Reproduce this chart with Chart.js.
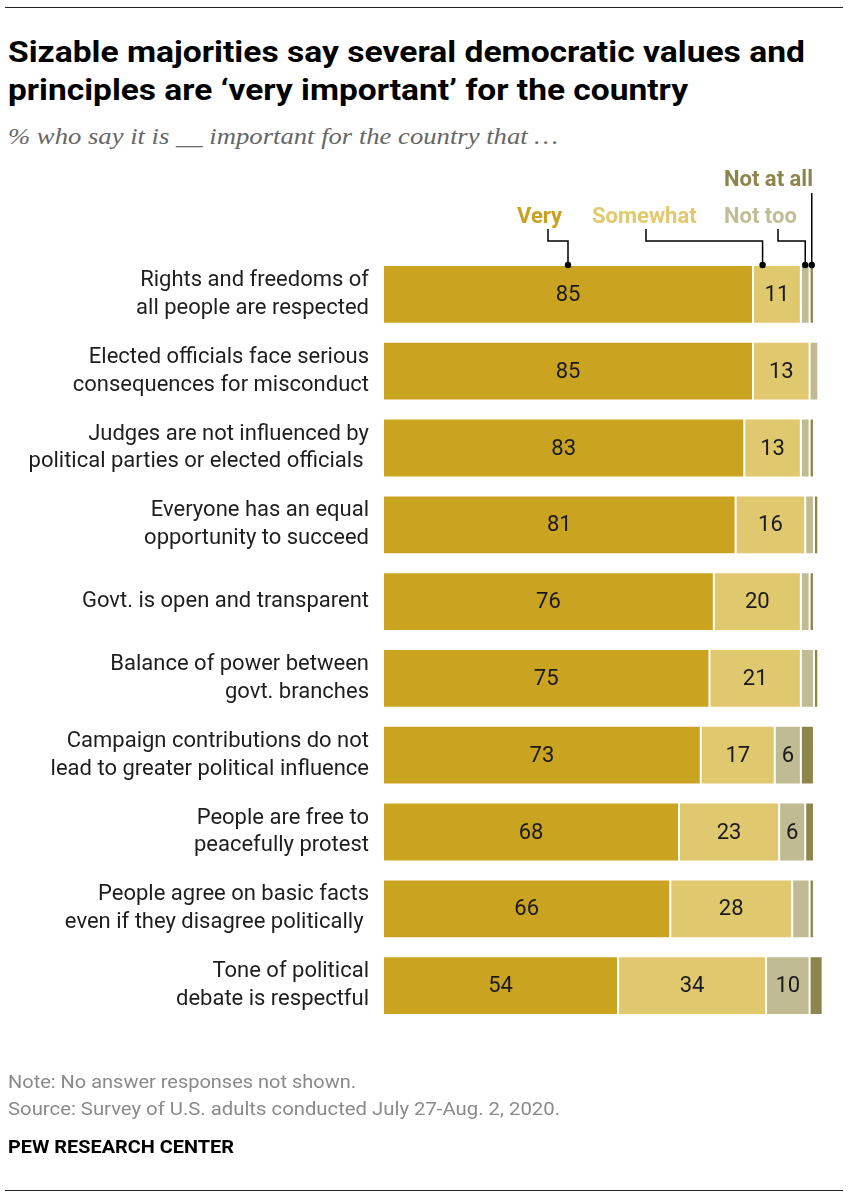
<!DOCTYPE html>
<html><head><meta charset="utf-8">
<script src="https://cdn.jsdelivr.net/npm/chart.js@4.4.1/dist/chart.umd.min.js"></script>
<style>
html,body{margin:0;padding:0;background:#fff;width:848px;height:1198px;overflow:hidden;}
#wrap{position:relative;width:848px;height:1198px;}
canvas{position:absolute;left:0;top:0;}
.t{position:absolute;left:8px;top:0;white-space:nowrap;transform-origin:0 0;}
.bl{display:inline-block;width:0;height:0;vertical-align:baseline;}
.title{font-family:Roboto,sans-serif;font-weight:700;font-size:30px;color:#000;}
.sub{font-family:"Liberation Serif",serif;font-style:italic;font-size:23px;color:#666;}
.note{font-family:Roboto,sans-serif;font-size:18px;color:#8a8a8a;}
.pew{font-family:Roboto,sans-serif;font-weight:700;font-size:18px;color:#000;}
.rule{position:absolute;left:5px;width:838px;height:1px;background:#222;}
</style></head>
<body><div id="wrap">
<div class="rule" style="top:7px"></div>
<div class="t title" data-w="797" data-b="62">Sizable majorities say several democratic values and<span class="bl"></span></div>
<div class="t title" data-w="680" data-b="100">principles are ‘very important’ for the country<span class="bl"></span></div>
<div class="t sub" data-w="550" data-b="144">% who say it is __ important for the country that …<span class="bl"></span></div>
<canvas id="c" width="848" height="1198"></canvas>
<div class="t note" data-w="348" data-b="1088">Note: No answer responses not shown.<span class="bl"></span></div>
<div class="t note" data-w="552" data-b="1115">Source: Survey of U.S. adults conducted July 27-Aug. 2, 2020.<span class="bl"></span></div>
<div class="t pew" data-w="226" data-b="1153">PEW RESEARCH CENTER<span class="bl"></span></div>
<div class="rule" style="top:1190px"></div>
</div>
<script>
const categories = [
  ["Rights and freedoms of", "all people are respected"],
  ["Elected officials face serious", "consequences for misconduct"],
  ["Judges are not influenced by", "political parties or elected officials "],
  ["Everyone has an equal", "opportunity to succeed"],
  ["Govt. is open and transparent"],
  ["Balance of power between", "govt. branches"],
  ["Campaign contributions do not", "lead to greater political influence"],
  ["People are free to", "peacefully protest"],
  ["People agree on basic facts", "even if they disagree politically "],
  ["Tone of political", "debate is respectful"]
];
const seriesNames = ["Very", "Somewhat", "Not too", "Not at all"];
const very     = [85, 85, 83, 81, 76, 75, 73, 68, 66, 54];
const somewhat = [11, 13, 13, 16, 20, 21, 17, 23, 28, 34];
const notToo   = [2, 2, 2, 2, 2, 3, 6, 6, 4, 10];
const notAtAll = [1, 0, 1, 1, 1, 1, 3, 2, 1, 3];

const colors = ["#CAA320", "#E0C86F", "#C0BB92", "#8D864C"];
const labelColors = ["#C9A120", "#E2C96E", "#C2BD95", "#8D864C"];

function fitTexts(){
  document.querySelectorAll('.t').forEach(el=>{
    const w = el.getBoundingClientRect().width;
    const bl = el.querySelector('.bl').offsetTop;
    el.style.top = (+el.dataset.b - bl) + 'px';
    el.style.transform = 'scaleX(' + (+el.dataset.w / w) + ')';
  });
}

const annot = {
  id: 'annot',
  afterDatasetsDraw(chart){
    const ctx = chart.ctx;
    ctx.save();
    ctx.font = '22px Roboto';
    ctx.fillStyle = '#1a1a1a';
    ctx.textAlign = 'center';
    ctx.textBaseline = 'middle';
    chart.data.datasets.forEach((ds, i)=>{
      const meta = chart.getDatasetMeta(i);
      meta.data.forEach((el, j)=>{
        const v = ds.data[j];
        if (i === 3 || (i === 2 && v < 5)) return;
        ctx.fillText(String(v), (el.x + el.base)/2, el.y + 1);
      });
    });
    ctx.restore();

    const fracs = [0.5, 0.2, 0.5, 0.5];
    const labelPos = [[517,223],[592,223],[724,223],[724,186]];
    const startX = [548, 646, 778, null];
    ctx.save();
    ctx.font = 'bold 22px Roboto';
    ctx.textAlign = 'left';
    ctx.textBaseline = 'alphabetic';
    ctx.strokeStyle = '#000';
    ctx.lineWidth = 1.5;
    for (let i = 0; i < 4; i++){
      const el = chart.getDatasetMeta(i).data[0];
      const top = el.y - el.height/2;
      const dx = el.base + (el.x - el.base) * fracs[i];
      ctx.fillStyle = labelColors[i];
      ctx.fillText(seriesNames[i], labelPos[i][0], labelPos[i][1]);
      ctx.beginPath();
      if (startX[i] !== null){
        ctx.moveTo(startX[i], 229);
        ctx.lineTo(startX[i], 241);
        ctx.lineTo(dx, 241);
        ctx.lineTo(dx, top);
      } else {
        ctx.moveTo(dx, 193);
        ctx.lineTo(dx, top);
      }
      ctx.stroke();
      ctx.fillStyle = '#000';
      ctx.beginPath();
      ctx.arc(dx, top, 3.2, 0, Math.PI*2);
      ctx.fill();
    }
    ctx.restore();
  }
};

function makeChart(){
  const series = [very, somewhat, notToo, notAtAll];
  new Chart(document.getElementById('c'), {
    type: 'bar',
    data: {
      labels: categories,
      datasets: series.map((d, i)=>({
        label: seriesNames[i],
        data: d,
        backgroundColor: colors[i],
        borderColor: 'rgba(255,255,255,0.35)',
        borderWidth: 1,
        borderSkipped: false,
        barPercentage: 0.765,
        categoryPercentage: 1.0
      }))
    },
    options: {
      indexAxis: 'y',
      responsive: false,
      animation: false,
      layout: { padding: { left: 0, right: 21, top: 256, bottom: 174 } },
      plugins: { legend: { display: false }, tooltip: { enabled: false } },
      scales: {
        x: { stacked: true, min: 0, max: 102, display: false },
        y: {
          stacked: true,
          grid: { display: false, drawTicks: false },
          border: { display: false },
          afterFit(scale){ scale.width = 383; },
          ticks: {
            padding: 14,
            color: '#1e1e1e',
            font: { family: 'Roboto', size: 22, lineHeight: 1.27 }
          }
        }
      }
    },
    plugins: [annot]
  });
}

Promise.all([
  document.fonts.load('20px Roboto'),
  document.fonts.load('bold 22px Roboto'),
  document.fonts.load('italic 23px "Liberation Serif"')
]).catch(()=>{}).then(()=>document.fonts.ready).then(()=>{
  fitTexts();
  makeChart();
});
</script>
</body></html>
